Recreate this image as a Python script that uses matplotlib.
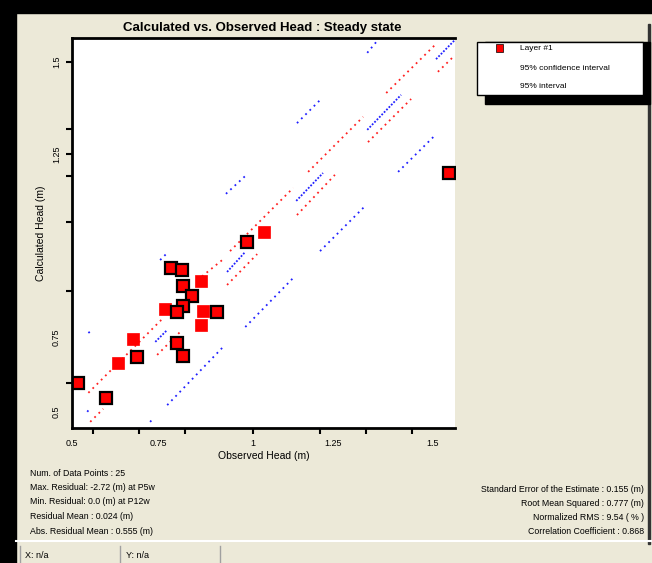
import matplotlib.pyplot as plt
from matplotlib.patches import Rectangle

plt.rcParams['font.family'] = ['Liberation Sans', 'DejaVu Sans']

# observed vs calculated heads (m)
obs_head = [0.530, 0.605, 0.637, 0.677, 0.688, 0.763, 0.780, 0.809, 0.812, 0.836, 0.812,
            0.796, 0.796, 0.812, 0.860, 0.860, 0.866, 0.903, 0.984, 1.030, 1.527]
calc_head = [0.643, 0.602, 0.696, 0.761, 0.712, 0.841, 0.952, 0.946, 0.903, 0.876, 0.850,
             0.833, 0.750, 0.715, 0.917, 0.798, 0.836, 0.833, 1.022, 1.048, 1.207]
outlined = [1, 1, 0, 0, 1, 0, 1, 1, 1, 1, 1, 1, 1, 1, 0, 0, 0, 1, 1, 0, 1]

# 95% confidence interval, drawn in broken pieces (x0, y0, x1, y1)
conf_x0 = [1.358, 1.497, 1.148, 1.309, 0.938, 1.118, 0.930, 0.557, 0.742, 0.562, 0.850]
conf_y0 = [1.422, 1.479, 1.210, 1.290, 0.997, 1.094, 0.906, 0.616, 0.718, 0.538, 0.919]
conf_x1 = [1.489, 1.538, 1.296, 1.425, 1.108, 1.220, 1.011, 0.753, 0.809, 0.597, 0.917]
conf_y1 = [1.551, 1.519, 1.358, 1.406, 1.167, 1.202, 0.989, 0.812, 0.785, 0.573, 0.973]

# 95% interval pieces; dense = drawn with tight dots
int_x0 = [1.307, 1.492, 1.118, 1.307, 1.390, 1.116, 1.180, 0.979, 0.927, 0.557, 0.750, 0.737, 0.930, 0.769, 0.554, 0.723]
int_y0 = [1.530, 1.513, 1.341, 1.323, 1.210, 1.132, 0.997, 0.793, 1.151, 0.777, 0.973, 0.753, 0.941, 0.583, 0.565, 0.538]
int_x1 = [1.336, 1.543, 1.183, 1.398, 1.487, 1.188, 1.301, 1.108, 0.979, 0.567, 0.769, 0.769, 0.979, 0.917, 0.562, 0.727]
int_y1 = [1.565, 1.565, 1.406, 1.417, 1.306, 1.207, 1.118, 0.925, 1.199, 0.785, 0.992, 0.785, 0.995, 0.737, 0.575, 0.542]
int_dense = [0, 1, 0, 1, 0, 1, 0, 0, 0, 0, 0, 1, 1, 0, 0, 0]

xtick_pos = [0.570, 0.694, 0.817, 1.0, 1.180, 1.304, 1.427]
xlabel_pos = [0.513, 0.745, 1.0, 1.215, 1.484]
xlabel_txt = ['0.5', '0.75', '1', '1.25', '1.5']
ytick_pos = [1.505, 1.325, 1.258, 1.199, 1.075, 0.890, 0.642]
ylabel_pos = [1.505, 1.258, 0.766, 0.565]
ylabel_txt = ['1.5', '1.25', '0.75', '0.5']

stats_left = ['Num. of Data Points : 25',
              'Max. Residual: -2.72 (m) at P5w',
              'Min. Residual: 0.0 (m) at P12w',
              'Residual Mean : 0.024 (m)',
              'Abs. Residual Mean : 0.555 (m)']
stats_right = ['Standard Error of the Estimate : 0.155 (m)',
               'Root Mean Squared : 0.777 (m)',
               'Normalized RMS : 9.54 ( % )',
               'Correlation Coefficient : 0.868']

W, H = 652, 563
bg = '#ECE9D8'
fig = plt.figure(figsize=(W / 100, H / 100), dpi=100, facecolor=bg)


def px(x, y):
    return x / W, 1 - y / H


# window frame
fig.patches.append(Rectangle((0, 1 - 13 / H), 1, 13 / H, transform=fig.transFigure, color='black'))
fig.patches.append(Rectangle((0, 0), 16 / W, 1, transform=fig.transFigure, color='black'))
fig.patches.append(Rectangle((648 / W, 19 / H), 2 / W, 520 / H, transform=fig.transFigure, color='#333333'))
fig.lines.append(plt.Line2D([16 / W, 1], [1 - 541 / H] * 2, transform=fig.transFigure, color='white', lw=1.5))
for sx in [20, 120, 220]:
    fig.lines.append(plt.Line2D([sx / W] * 2, [0, 1 - 546 / H], transform=fig.transFigure, color='#A0A0A0', lw=1))
fig.text(*px(25, 555), 'X: n/a', fontsize=6.5, va='center')
fig.text(*px(126, 555), 'Y: n/a', fontsize=6.5, va='center')

ax = fig.add_axes([72 / W, 1 - 428 / H, 383 / W, 390 / H])
ax.set_facecolor('white')
ax.set_xlim(0.5134, 1.543)
ax.set_ylim(0.5215, 1.5699)

for i in range(len(conf_x0)):
    ax.plot([conf_x0[i], conf_x1[i]], [conf_y0[i], conf_y1[i]], color='#FF2020',
            lw=1.3, ls=(0, (1, 2.3)))
for i in range(len(int_x0)):
    ls = (0, (1, 0.9)) if int_dense[i] else (0, (1, 2.3))
    ax.plot([int_x0[i], int_x1[i]], [int_y0[i], int_y1[i]], color='#2020FF', lw=1.3, ls=ls)

for x, y, o in zip(obs_head, calc_head, outlined):
    ax.plot(x, y, 's', ms=8.5, color='#FF0000', mec='black' if o else '#FF0000', mew=1.6 if o else 0.5)

for s in ['left', 'bottom', 'top']:
    ax.spines[s].set_linewidth(2)
ax.spines['right'].set_visible(False)
ax.xaxis.remove_overlapping_locs = False
ax.yaxis.remove_overlapping_locs = False
ax.set_xticks(xtick_pos)
ax.set_xticklabels([])
ax.set_xticks(xlabel_pos, minor=True)
ax.set_xticklabels(xlabel_txt, minor=True, fontsize=6.5)
ax.set_yticks(ytick_pos)
ax.set_yticklabels([])
ax.set_yticks(ylabel_pos, minor=True)
ax.set_yticklabels(ylabel_txt, minor=True, fontsize=6.5, rotation=90, va='center')
ax.tick_params(which='major', length=4, width=1.5)
ax.tick_params(which='minor', length=0, pad=8)
ax.set_xlabel('Observed Head (m)', fontsize=7.5, labelpad=2)
ax.set_ylabel('Calculated Head (m)', fontsize=7.5, labelpad=4)

fig.text(*px(262, 28), 'Calculated vs. Observed Head : Steady state', fontsize=9.5,
         fontweight='bold', ha='center', va='center')

# legend box with shadow
fig.patches.append(Rectangle(px(485, 104), 165 / W, 62 / H, transform=fig.transFigure, color='black'))
fig.patches.append(Rectangle(px(477, 95), 166 / W, 53 / H, transform=fig.transFigure,
                             facecolor='white', edgecolor='black', lw=1))
fig.patches.append(Rectangle(px(496, 52), 7 / W, 8 / H, transform=fig.transFigure,
                             facecolor='#FF0000', edgecolor='black', lw=0.5))
for t, ty in zip(['Layer #1', '95% confidence interval', '95% interval'], [49, 69, 87]):
    fig.text(*px(520, ty), t, fontsize=6, va='center')

for i, t in enumerate(stats_left):
    fig.text(*px(30, 473 + 14.5 * i), t, fontsize=6.3, va='center')
for i, t in enumerate(stats_right):
    fig.text(*px(644, 489 + 14.2 * i), t, fontsize=6.3, va='center', ha='right')

fig.savefig('out.png', dpi=100, facecolor=bg)
